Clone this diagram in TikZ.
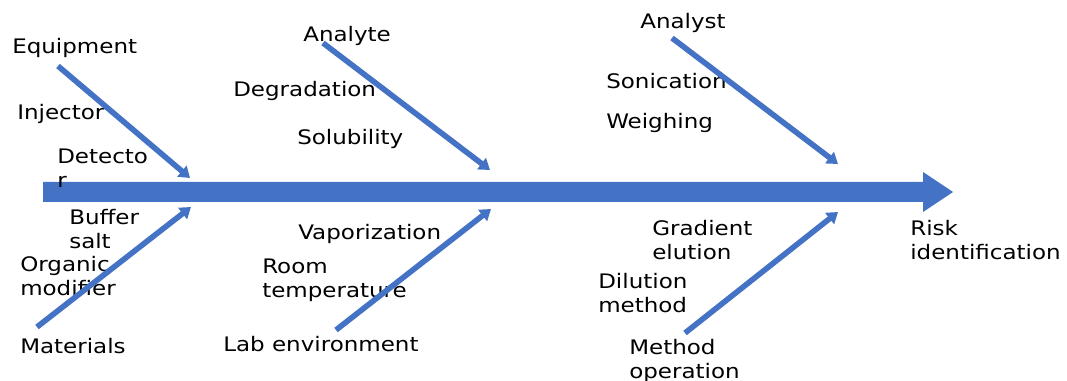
\documentclass[tikz,border=0pt]{standalone}
\usepackage{fontspec}
\setmainfont[FakeStretch=1.15]{DejaVu Sans}
\usepackage{xcolor}
\usepackage{tikz}
\usetikzlibrary{arrows.meta}
\definecolor{bone}{HTML}{4472C4}

\begin{document}
\begin{tikzpicture}[x=0.75pt,y=-0.75pt,
    every node/.style={font=\fontsize{15}{17.6}\selectfont,inner sep=0pt,anchor=base west,align=left},
    branch/.style={draw=bone,line width=4.2pt,-{Triangle[length=8pt,width=10.5pt]}}]
    \useasboundingbox (0,0) rectangle (1067,381);

    % main spine
    \fill[bone] (43,182) -- (923,182) -- (923,172) -- (953,192) -- (923,212) -- (923,202) -- (43,202) -- cycle;
    \node (risk) at (910,259) {Risk\\identification};

    % upper bones (two-line labels sit on their last baseline)
    \node (equip) at (12,54) {Equipment};
    \node (inject) at (17,120) {Injector};
    \node (detect) at (57,187) {Detecto\\r};
    \coordinate (e1) at (58,66);  \coordinate (e2) at (190,178);
    \draw[branch] (e1) -- (e2);

    \node (analyte) at (303,42) {Analyte};
    \node (degrad) at (233,97) {Degradation};
    \node (solub) at (297,145) {Solubility};
    \coordinate (a1) at (323,43);  \coordinate (a2) at (490,170);
    \draw[branch] (a1) -- (a2);

    \node (analyst) at (640,29) {Analyst};
    \node (sonic) at (606,89) {Sonication};
    \node (weigh) at (606,129) {Weighing};
    \coordinate (s1) at (672,38);  \coordinate (s2) at (838,164);
    \draw[branch] (s1) -- (s2);

    % lower bones
    \node (buffer) at (69,248) {Buffer\\salt};
    \node (organic) at (20,295) {Organic\\modifier};
    \node (mater) at (20,353) {Materials};
    \coordinate (m1) at (37,327);  \coordinate (m2) at (191,207);
    \draw[branch] (m1) -- (m2);

    \node (vapor) at (298,239) {Vaporization};
    \node (room) at (262,297) {Room\\temperature};
    \node (labenv) at (223,351) {Lab environment};
    \coordinate (l1) at (336,330);  \coordinate (l2) at (491,209);
    \draw[branch] (l1) -- (l2);

    \node (gradient) at (652,259) {Gradient\\elution};
    \node (dilution) at (598,312) {Dilution\\method};
    \node (methop) at (629,378) {Method\\operation};
    \coordinate (o1) at (685,333);  \coordinate (o2) at (838,212);
    \draw[branch] (o1) -- (o2);
\end{tikzpicture}
\end{document}
